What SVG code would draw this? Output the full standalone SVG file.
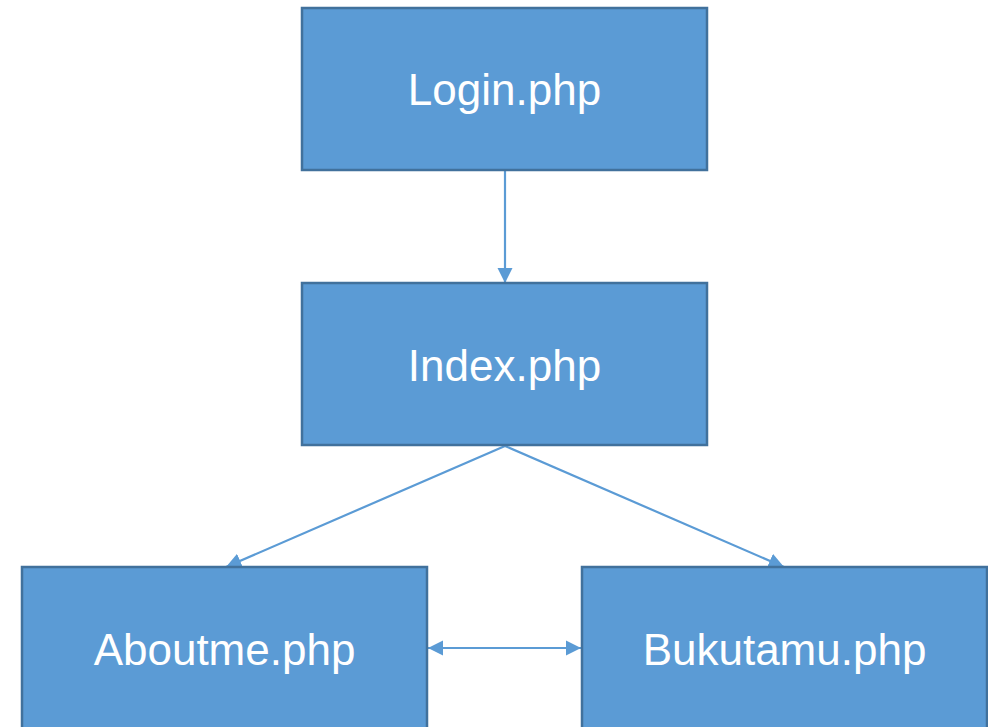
<svg xmlns="http://www.w3.org/2000/svg" width="988" height="727" viewBox="0 0 988 727">
  <style>
    .box { fill: #5B9BD5; stroke: #41719C; stroke-width: 2.5; }
    .label { fill: #FFFFFF; font-family: "Liberation Sans", Arial, sans-serif; font-size: 44px; text-anchor: middle; }
    .link { stroke: #5B9BD5; stroke-width: 2.2; fill: none; }
  </style>
  <defs>
    <marker id="arrow" viewBox="0 0 10 10" refX="10" refY="5" markerWidth="7" markerHeight="7" orient="auto-start-reverse" markerUnits="strokeWidth">
      <path d="M0,0 L10,5 L0,10 Z" fill="#5B9BD5"/>
    </marker>
  </defs>

  <g id="connectors">
    <line class="link" x1="505" y1="171" x2="505" y2="283" marker-end="url(#arrow)"/>
    <line class="link" x1="505" y1="446" x2="226" y2="567" marker-end="url(#arrow)"/>
    <line class="link" x1="505" y1="446" x2="784" y2="567" marker-end="url(#arrow)"/>
    <line class="link" x1="428" y1="648" x2="581" y2="648" marker-start="url(#arrow)" marker-end="url(#arrow)"/>
  </g>

  <g id="login">
    <rect class="box" x="302" y="8" width="405" height="162"/>
    <text class="label" x="504.5" y="105">Login.php</text>
  </g>
  <g id="index">
    <rect class="box" x="302" y="283" width="405" height="162"/>
    <text class="label" x="504.5" y="381">Index.php</text>
  </g>
  <g id="aboutme">
    <rect class="box" x="22" y="567" width="405" height="162"/>
    <text class="label" x="224.5" y="665">Aboutme.php</text>
  </g>
  <g id="bukutamu">
    <rect class="box" x="582" y="567" width="405" height="162"/>
    <text class="label" x="784.5" y="665">Bukutamu.php</text>
  </g>
</svg>
